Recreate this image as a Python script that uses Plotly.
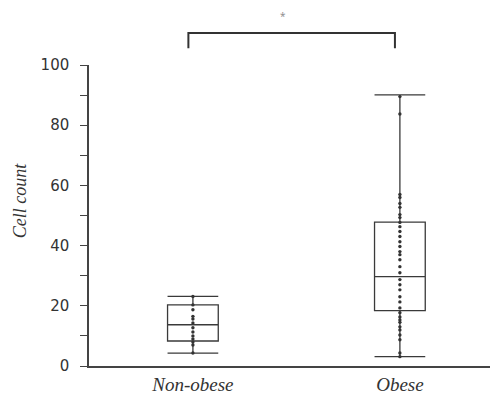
import plotly.graph_objects as go

categories = ["Non-obese", "Obese"]
non_obese = [4.3, 7, 8, 9, 10, 11.3, 12.7, 14.3, 15.6, 16.5, 18.7, 20.3, 23.1]
obese = [3.1, 4.3, 8.7, 10.3, 12, 13, 14.5, 15.3, 16.3, 17.7, 19.3, 21.3, 23, 25.3,
         27, 28.7, 31, 33, 35.3, 37, 38, 39.7, 41.3, 43, 44.7, 46.3, 47.7, 49.3,
         50.3, 52.7, 54, 56, 57, 83.7, 89.5]
box_lower = [4.3, 3.1]
box_q1 = [8.3, 18.4]
box_median = [13.7, 29.7]
box_q3 = [20.3, 47.8]
box_upper = [23.1, 90.1]
y_ticks = [0, 20, 40, 60, 80, 100]
significance = "*"

line_col = "#3a3a3a"

fig = go.Figure()
fig.add_trace(go.Box(
    x=categories, q1=box_q1, median=box_median, q3=box_q3,
    lowerfence=box_lower, upperfence=box_upper,
    width=0.245, whiskerwidth=1.0,
    fillcolor="rgba(255,255,255,0)",
    line=dict(color=line_col, width=1.3),
    boxpoints=False, showlegend=False, hoverinfo="skip",
))
fig.add_trace(go.Scatter(
    x=[categories[0]] * len(non_obese) + [categories[1]] * len(obese),
    y=non_obese + obese,
    mode="markers",
    marker=dict(size=3.4, color="#333333"),
    showlegend=False,
))

# significance bracket
fig.add_shape(type="path", xref="paper", yref="paper",
              path="M 0.243 1.056 L 0.243 1.106 L 0.748 1.106 L 0.748 1.056",
              line=dict(color="#333333", width=2))
fig.add_annotation(text=significance, xref="paper", yref="paper", x=0.474, y=1.163,
                   yanchor="middle", xanchor="center",
                   showarrow=False, font=dict(size=10, color="#888888"))
fig.add_annotation(text="Cell count", xref="paper", yref="paper", x=-0.168, y=0.548,
                   textangle=-90, showarrow=False, xanchor="center", yanchor="middle",
                   font=dict(family="Liberation Serif", size=18, color="#333333", style="italic"))

fig.update_layout(
    width=490, height=389,
    margin=dict(l=81, r=0, t=57, b=31, autoexpand=False),
    plot_bgcolor="white", paper_bgcolor="white",
    showlegend=False,
)
fig.update_xaxes(
    type="category", range=[-0.502, 1.474],
    showline=True, linecolor="#444444", linewidth=1.5,
    showgrid=False, zeroline=False, ticks="",
    tickfont=dict(family="Liberation Serif", size=19, color="#333333", style="italic"),
)
fig.update_yaxes(
    range=[0, 100], tickvals=y_ticks,
    showline=True, linecolor="#444444", linewidth=1.5,
    showgrid=False, zeroline=False,
    ticks="outside", ticklen=7, tickwidth=1.3, tickcolor="#444444",
    minor=dict(dtick=10, ticks="outside", ticklen=7, tickwidth=1.3, tickcolor="#444444"),
    ticklabelstandoff=8,
    tickfont=dict(family="DejaVu Sans", size=15, color="#333333"),
)

fig.write_html("out.html")
